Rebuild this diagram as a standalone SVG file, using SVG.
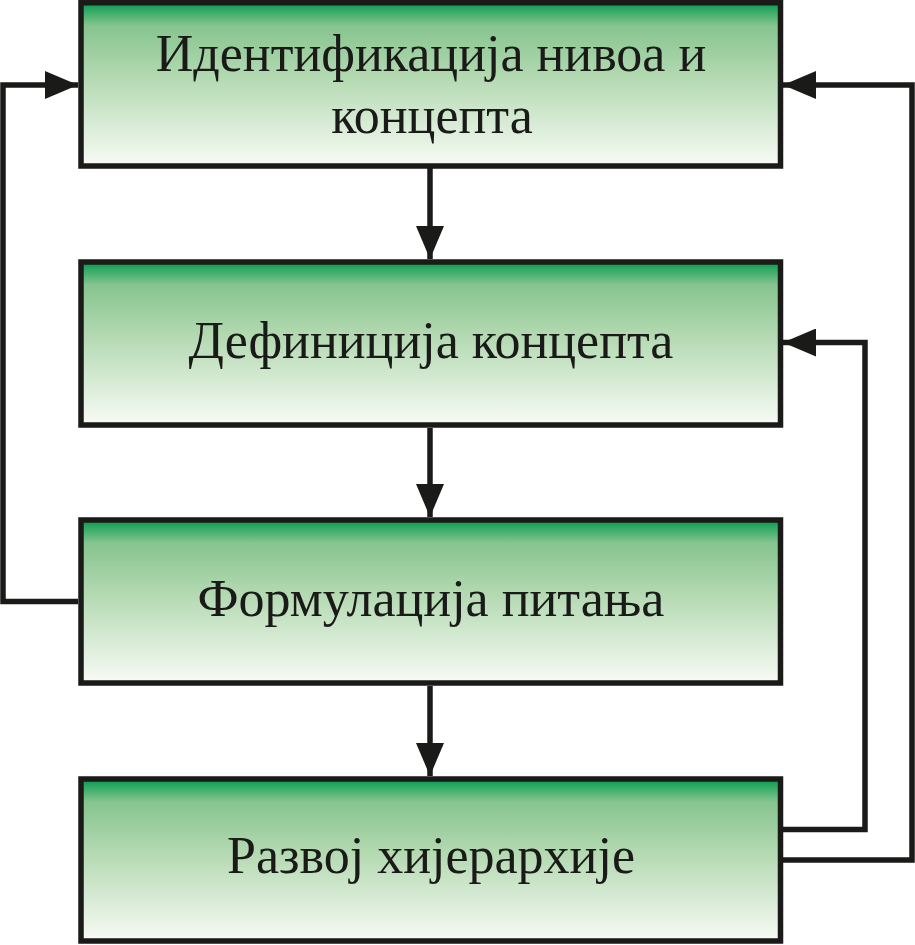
<svg xmlns="http://www.w3.org/2000/svg" width="915" height="945" viewBox="0 0 915 945">
<defs>
<linearGradient id="g" x1="0" y1="0" x2="0" y2="1">
<stop offset="0" stop-color="#009a4e"/>
<stop offset="0.04" stop-color="#2aa862"/>
<stop offset="0.14" stop-color="#86c48f"/>
<stop offset="0.45" stop-color="#b3d9b1"/>
<stop offset="1" stop-color="#f8fbf5"/>
</linearGradient>
<marker id="ah" viewBox="0 0 33 28" refX="33" refY="14" markerWidth="33" markerHeight="28" markerUnits="userSpaceOnUse" orient="auto">
<path d="M0,0 L33,14 L0,28 z" fill="#1a1a18"/>
</marker>
</defs>
<style>
.box{fill:url(#g);stroke:#1a1a18;stroke-width:5.5}
.lbl{font-family:"Liberation Serif","Times New Roman",serif;font-size:52px;fill:#1a1a18;text-anchor:middle}
.con{fill:none;stroke:#1a1a18;stroke-width:5.5;marker-end:url(#ah)}
</style>
<rect width="915" height="945" fill="#ffffff"/>
<g id="connectors">
<path class="con" d="M430,168 V259"/>
<path class="con" d="M430,428 V517"/>
<path class="con" d="M430,686 V776"/>
<path class="con" d="M78,601.5 H3 V85 H78"/>
<path class="con" d="M783,860 H912 V85 H783"/>
<path class="con" d="M783,829.5 H865 V342.5 H783"/>
</g>
<g id="n1">
<rect class="box" x="81" y="2.75" width="699.5" height="163.25"/>
<text class="lbl" x="431" y="71">Идентификација нивоа и</text>
<text class="lbl" x="432" y="133">концепта</text>
</g>
<g id="n2">
<rect class="box" x="81" y="262" width="699.5" height="163"/>
<text class="lbl" x="431" y="358">Дефиниција концепта</text>
</g>
<g id="n3">
<rect class="box" x="81" y="520" width="699.5" height="163"/>
<text class="lbl" x="431" y="616">Формулација питања</text>
</g>
<g id="n4">
<rect class="box" x="81" y="779" width="699.5" height="162"/>
<text class="lbl" x="431" y="873">Развој хијерархије</text>
</g>
</svg>
